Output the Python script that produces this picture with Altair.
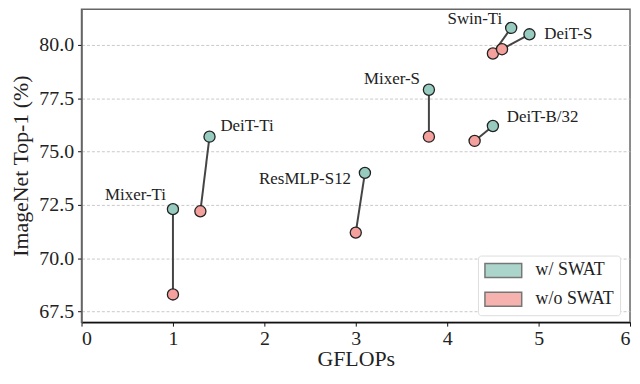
import altair as alt
import pandas as pd

models = ["Mixer-Ti", "DeiT-Ti", "ResMLP-S12", "Mixer-S", "DeiT-B/32", "Swin-Ti", "DeiT-S"]
gflops_with = [1.0, 1.4, 3.1, 3.8, 4.5, 4.7, 4.9]
top1_with = [72.3, 75.7, 74.0, 77.9, 76.2, 80.8, 80.5]
gflops_without = [1.0, 1.3, 3.0, 3.8, 4.3, 4.5, 4.6]
top1_without = [68.3, 72.2, 71.2, 75.7, 75.5, 79.6, 79.8]
series = ["w/ SWAT", "w/o SWAT"]
x_ticks = [0, 1, 2, 3, 4, 5, 6]
y_ticks = [67.5, 70.0, 72.5, 75.0, 77.5, 80.0]

# label styling (offsets in pixels from the "w/ SWAT" point)
label_style = {
    "Mixer-Ti": ("right", -7, -14),
    "DeiT-Ti": ("left", 11, -11),
    "ResMLP-S12": ("right", -14, 6),
    "Mixer-S": ("right", -9, -11),
    "DeiT-B/32": ("left", 14, -9),
    "Swin-Ti": ("right", -9, -9),
    "DeiT-S": ("left", 15, 0),
}

pairs = pd.DataFrame({
    "model": models,
    "x_with": gflops_with, "y_with": top1_with,
    "x_without": gflops_without, "y_without": top1_without,
})
points = pd.DataFrame({
    "model": models * 2,
    "gflops": gflops_with + gflops_without,
    "top1": top1_with + top1_without,
    "series": [series[0]] * len(models) + [series[1]] * len(models),
})

FONT = "Liberation Serif"
xs = alt.Scale(domain=[0, 6], nice=False, zero=False)
ys = alt.Scale(domain=[67.0, 81.68], nice=False, zero=False)

rules = alt.Chart(pairs).mark_rule(color="#444444", strokeWidth=2).encode(
    x=alt.X("x_without:Q", scale=xs,
            axis=alt.Axis(values=x_ticks, format="d", title="GFLOPs", grid=False,
                          domainColor="#111111", domainWidth=1.5, tickColor="#111111",
                          tickSize=4, labelFontSize=20, labelColor="#222222", labelPadding=2,
                          titleFontSize=22, titleFontWeight="normal", titleColor="#222222",
                          titlePadding=1)),
    y=alt.Y("y_without:Q", scale=ys,
            axis=alt.Axis(values=y_ticks, format=".1f", title="ImageNet Top-1 (%)",
                          grid=True, gridColor="#bbbbbb", gridDash=[3, 2], gridWidth=0.8,
                          domainColor="#666666", domainWidth=1.5, tickColor="#111111",
                          tickSize=4, labelFontSize=20, labelColor="#222222", labelPadding=4,
                          titleFontSize=22, titleFontWeight="normal", titleColor="#222222",
                          titlePadding=6)),
    x2="x_with:Q",
    y2="y_with:Q",
)

pts = alt.Chart(points).mark_point(filled=True, opacity=1, size=125, stroke="#222222",
                                   strokeWidth=1.3).encode(
    x=alt.X("gflops:Q", scale=xs),
    y=alt.Y("top1:Q", scale=ys),
    fill=alt.Fill("series:N",
                  scale=alt.Scale(domain=series, range=["#97cbbf", "#f4a09c"]),
                  legend=alt.Legend(title=None, orient="none", legendX=399, legendY=248,
                                    symbolType="M-1,-0.875H3.625V0.875H-1Z", symbolSize=256,
                                    symbolStrokeColor="#555555", symbolStrokeWidth=1.5,
                                    symbolOpacity=0.8,
                                    labelFontSize=18, labelFont=FONT, labelColor="#222222",
                                    labelOffset=34, rowPadding=9,
                                    fillColor="white", strokeColor="#dddddd",
                                    padding=6, cornerRadius=3)),
)

text_layers = []
for m in models:
    align, dx, dy = label_style[m]
    text_layers.append(
        alt.Chart(pairs).transform_filter(alt.datum.model == m)
        .mark_text(align=align, baseline="middle", dx=dx, dy=dy, fontSize=17,
                   font=FONT, color="#222222")
        .encode(x=alt.X("x_with:Q", scale=xs), y=alt.Y("y_with:Q", scale=ys),
                text="model:N")
    )

chart = alt.layer(rules, pts, *text_layers).properties(
    width=552, height=315,
    autosize=alt.AutoSizeParams(type="none"),
    padding={"left": 74, "top": 0, "right": 2, "bottom": 48},
).configure_view(
    stroke="#666666", strokeWidth=1.5,
).configure_axis(
    labelFont=FONT, titleFont=FONT,
)

chart.save("out.html", embed_options={"renderer": "svg", "actions": False})
